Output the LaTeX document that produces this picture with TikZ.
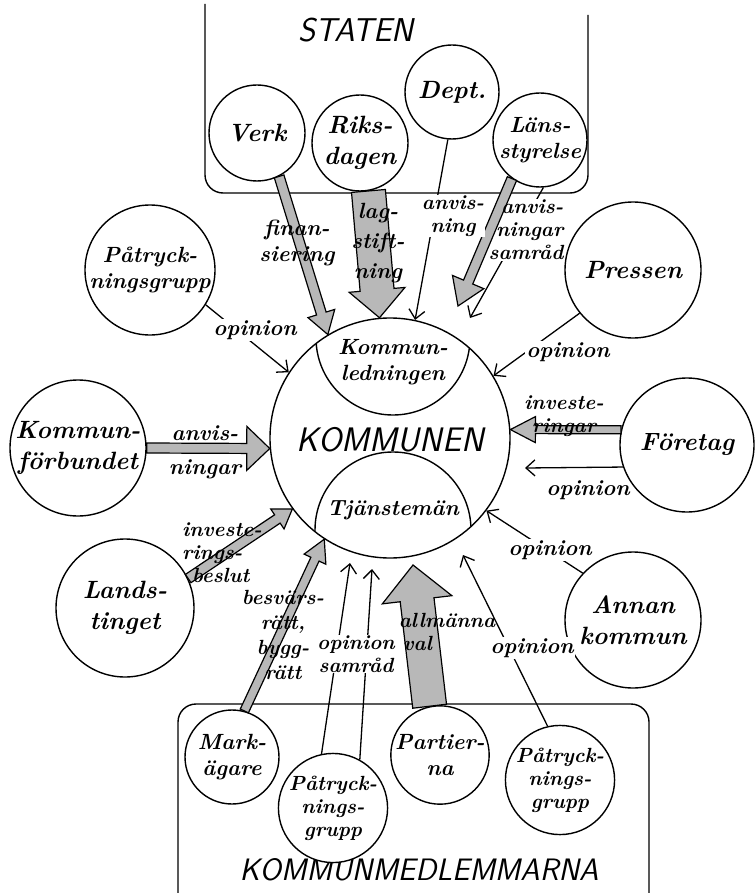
\documentclass[tikz,border=0pt]{standalone}
\usetikzlibrary{calc,arrows.meta}
\newcommand{\hand}{\fontsize{25}{31}\selectfont\bfseries\itshape}
\newcommand{\handsm}{\fontsize{22}{26}\selectfont\bfseries\itshape}
\newcommand{\handxs}{\fontsize{20.5}{23}\selectfont\bfseries\itshape}
\newcommand{\caps}{\sffamily\slshape}
\newcommand{\fatarrow}[5]{%
  \coordinate (fas) at (#1);
  \coordinate (fae) at (#2);
  \coordinate (fab) at ($(fae)!#5!(fas)$);
  \filldraw[fat] ($(fas)!#3!90:(fae)$) -- ($(fab)!#3!-90:(fas)$) -- ($(fab)!#4!-90:(fas)$) -- (fae) -- ($(fab)!#4!90:(fas)$) -- ($(fab)!#3!90:(fas)$) -- ($(fas)!#3!-90:(fae)$) -- cycle;
}
\tikzset{
  ent/.style={circle, draw, line width=1.4pt, fill=white, inner sep=0pt, align=center, font=\hand},
  lab/.style={font=\handsm, align=center, inner sep=1pt},
  wlab/.style={lab, fill=white},
  thin/.style={line width=1.3pt, -{Straight Barb[length=9pt,width=16pt,line width=1.3pt]}},
  fat/.style={draw, line width=1.2pt, fill=black!28, line join=miter},
  box/.style={line width=1.4pt, rounded corners=18pt}
}
\begin{document}
\begin{tikzpicture}[x=1pt,y=-1pt]
\useasboundingbox (0,0) rectangle (754,893);
\fill[white] (0,0) rectangle (754,893);
% boxes
\draw[box] (205,4) -- (205,193) -- (588,193) -- (588,15);
\draw[box] (178,900) -- (178,704) -- (649,704) -- (649,900);
\node[font=\fontsize{33}{36}\selectfont\caps] (staten) at (356,30) {STATEN};
\node[font=\fontsize{31}{34}\selectfont\caps] (medl) at (419,870) {KOMMUNMEDLEMMARNA};

% main circle
\node[circle, draw, line width=1.4pt, fill=white, minimum size=240pt, inner sep=0pt] (kom) at (390,438) {};
\begin{scope}
  \clip (390,438) circle (119.5);
  \draw[line width=1.4pt] (393,338) circle (77);
  \draw[line width=1.4pt] (393,530) circle (78);
\end{scope}
\node[font=\fontsize{34}{36}\selectfont\caps] (komtxt) at (390,440) {KOMMUNEN};
\node[lab, font=\handsm] (kl) at (393,362) {Kommun-\\ledningen};
\node[lab, font=\handsm] (tj) at (393,510) {Tjänstemän};

% STATEN circles
\node[ent, minimum size=96pt] (verk) at (257,133) {Verk};
\node[ent, minimum size=96pt] (rik) at (360,143) {Riks-\\dagen};
\node[ent, minimum size=94pt] (dept) at (452,92) {Dept.};
\node[ent, minimum size=94pt, font=\handsm] (lan) at (540,140) {Läns-\\styrelse};

% side circles
\node[ent, minimum size=130pt, font=\handsm] (pat) at (150,270) {Påtryck-\\ningsgrupp};
\node[ent, minimum size=136pt] (pr) at (633,270) {Pressen};
\node[ent, minimum size=136pt] (kf) at (78,448) {Kommun-\\förbundet};
\node[ent, minimum size=134pt] (fo) at (687,445) {Företag};
\node[ent, minimum size=138pt] (lt) at (125,608) {Lands-\\tinget};
\node[ent, minimum size=136pt] (an) at (633,620) {Annan\\kommun};

% bottom circles
\node[ent, minimum size=94pt, font=\handsm] (ma) at (232,757) {Mark-\\ägare};
\node[ent, minimum size=94pt, font=\handxs] (pb1) at (333,808) {Påtryck-\\nings-\\grupp};
\node[ent, minimum size=94pt, font=\handsm] (pa) at (440,755) {Partier-\\na};
\node[ent, minimum size=92pt, font=\handxs] (pb2) at (560,780) {Påtryck-\\nings-\\grupp};

% free ends
\coordinate (lanTip) at (458,306);
\coordinate (lanTipB) at (470,318);
\coordinate (foTip) at (525,468);
\coordinate (pbTipA) at (350,563);
\coordinate (pbTipB) at (372,569);
\coordinate (paTip) at (413,565);
\coordinate (pb2Tip) at (463,555);

% thin arrows
\draw[thin] (dept.-95) -- (kom.78);
\draw[thin] (pat.-32) -- (kom.147);
\draw[thin] (pr.219) -- (kom.31);
\draw[thin] (fo.199) -- (foTip);
\draw[thin] (an.137) -- (kom.-37);
\draw[thin] (pb1.102) -- (pbTipA);
\draw[thin] (pb1.61) -- (pbTipB);
\draw[thin] (pb2.103) -- (pb2Tip);

% fat arrows
\fatarrow{verk.-63}{kom.121}{5pt}{14pt}{22pt}
\fatarrow{rik.-80}{kom.95}{17pt}{28pt}{28pt}
\fatarrow{lan.234}{lanTip}{5pt}{17pt}{26pt}
\fatarrow{kf.east}{kom.185}{5pt}{22pt}{23pt}
\fatarrow{lt.25}{kom.216}{5pt}{12pt}{18pt}
\fatarrow{fo.167}{kom.4}{4pt}{13pt}{25pt}
\fatarrow{ma.75}{kom.237}{4.5pt}{12pt}{22pt}
\fatarrow{pa.102}{paTip}{17pt}{35pt}{35pt}

% labels
\node[lab] (l1) at (297,243) {finan-\\siering};
\node[lab, font=\fontsize{22}{30}\selectfont\bfseries\itshape] (l2) at (378,243) {lag-\\stift-\\ning};
\node[wlab, font=\handxs] (l3) at (453,216) {anvis-\\ning};
\node[lab, font=\handxs, align=right] (l4) at (526,230) {anvis-\\ningar\\samråd};
\node[wlab] (l5) at (255,330) {opinion};
\node[lab, font=\fontsize{22}{34}\selectfont\bfseries\itshape] (l6) at (205,452) {anvis-\\ningar};
\node[lab, align=left, font=\handxs] (l7) at (222,553) {investe-\\rings-\\\hspace*{10pt}beslut};
\node[wlab] (l8) at (568,352) {opinion};
\node[lab, font=\handxs] (l9) at (564,416) {investe-\\ringar};
\node[lab] (l10) at (588,490) {opinion};
\node[wlab] (l11) at (550,550) {opinion};
\node[lab, font=\fontsize{20.5}{25}\selectfont\bfseries\itshape] (l12) at (283,635) {besvärs-\\rätt,\\bygg-\\rätt};
\node[wlab, font=\handxs] (l13) at (356,654) {opinion\\samråd};
\node[lab, align=left, font=\handxs] (l14) at (447,632) {allmänna\\\hspace*{4pt}val};
\node[wlab] (l15) at (532,648) {opinion};

% Länsstyrelse thin arrow, broken by its label
\begin{scope}[even odd rule]
  \clip (0,0) rectangle (754,893) (l4.south west) rectangle (l4.north east);
  \draw[thin] (lan.-86) -- (lanTipB);
\end{scope}
\end{tikzpicture}
\end{document}
